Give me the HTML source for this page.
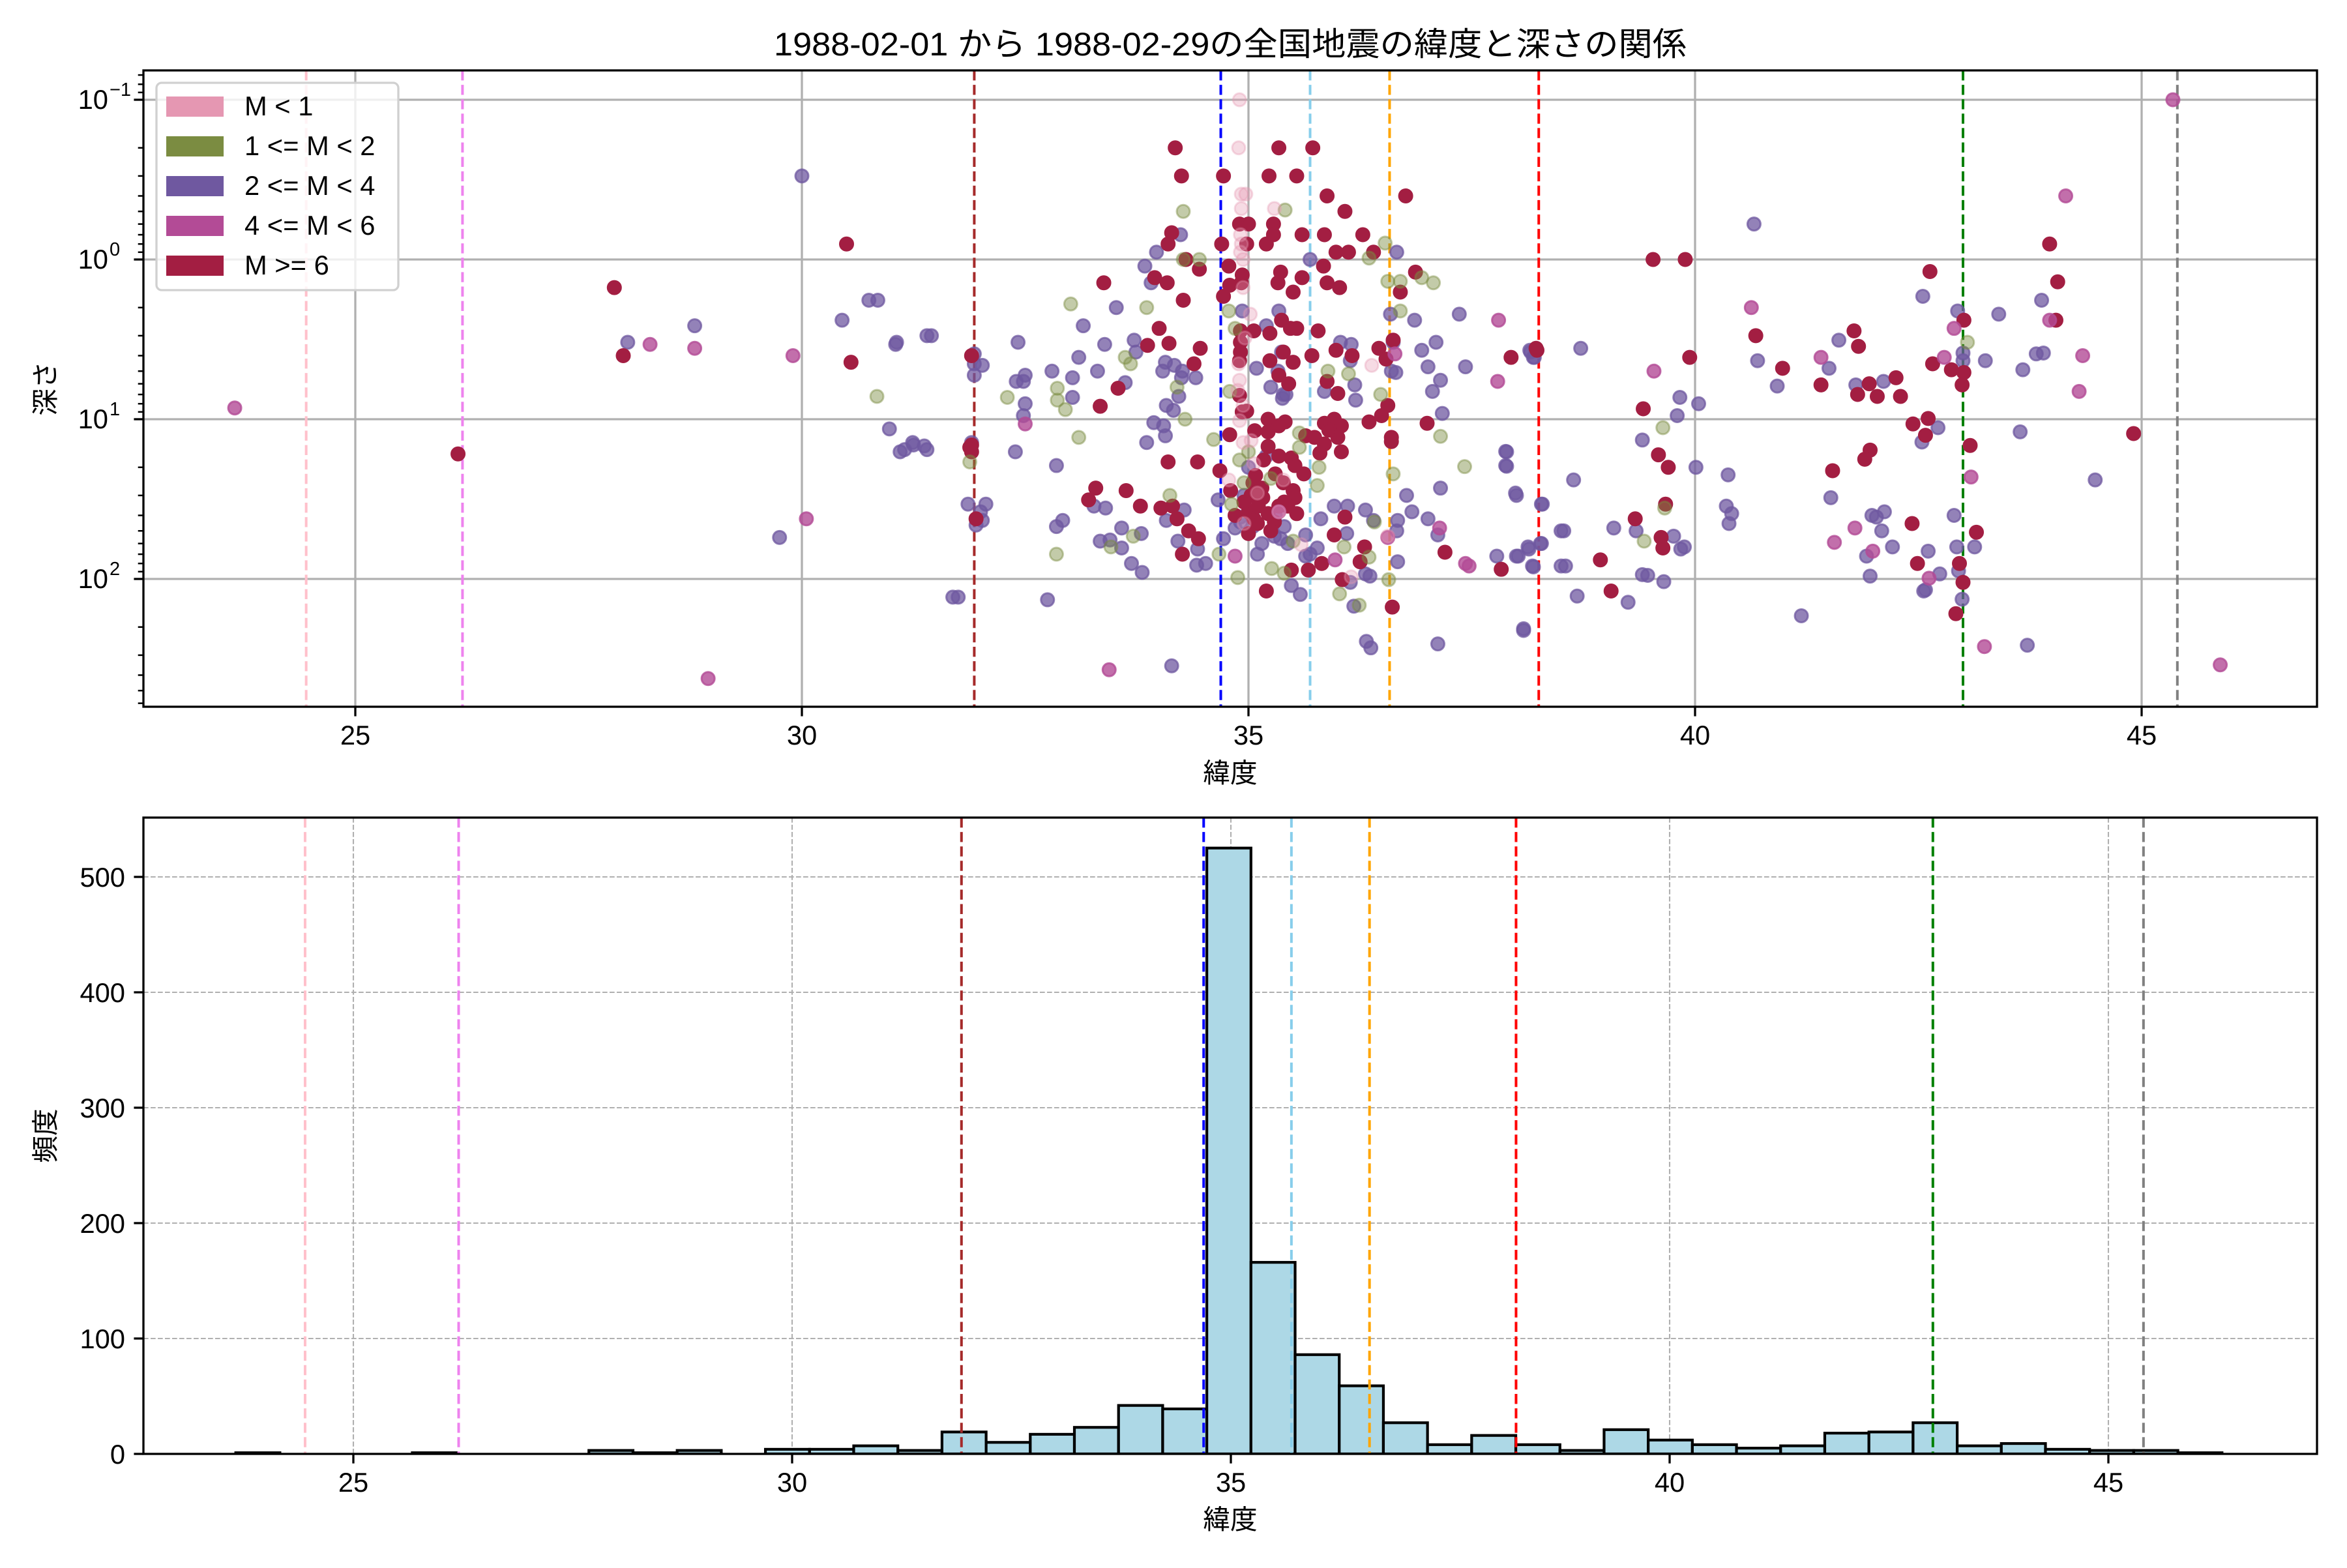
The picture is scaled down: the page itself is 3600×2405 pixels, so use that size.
<!DOCTYPE html>
<html><head><meta charset="utf-8"><style>
html,body{margin:0;padding:0;background:#fff;}
svg text{font-family:"Liberation Sans","Noto Sans CJK JP",sans-serif;fill:#000;}
</style></head>
<body>
<svg id="fig" xmlns="http://www.w3.org/2000/svg" width="3600" height="2400" viewBox="0 0 3600 2400">
<rect width="3600" height="2400" fill="#fff"/>
<defs>
<clipPath id="clipTop"><rect x="220" y="108" width="3334" height="976"/></clipPath>
<clipPath id="clipBot"><rect x="220" y="1254" width="3334" height="976"/></clipPath>
</defs>
<text x="1887" y="85" font-size="50" text-anchor="middle" textLength="1400" lengthAdjust="spacingAndGlyphs">1988-02-01 から 1988-02-29の全国地震の緯度と深さの関係</text>
<g id="topPanel"></g>
<g id="botPanel"></g>
</svg>
<script>
// ---- data ----
const refLats = [24.45, 26.2, 31.93, 34.69, 35.69, 36.58, 38.25, 43.0, 45.4];
const refColors = ["pink","violet","brown","blue","skyblue","orange","red","green","gray"];
const xTicks = [25, 30, 35, 40, 45];
const depthTicks = [-1, 0, 1, 2];
const countTicks = [0, 100, 200, 300, 400, 500];
const histStart = 23.66;
const histWidth = 0.503;
const histCounts = [1,0,0,0,1,0,0,0,3,1,3,0,4,4,7,3,19,10,17,23,42,39,525,166,86,59,27,8,16,8,3,21,12,8,5,7,18,19,27,7,9,4,3,3,1];
const legendLabels = ["M < 1","1 <= M < 2","2 <= M < 4","4 <= M < 6","M >= 6"];
const legendColors = ["#e597b2","#7b8c41","#6f58a0","#b34b96","#a31e42"];

const ptsPink = [[34.89,0.2],[34.92,0.39],[34.97,0.39],[34.92,0.48],[35.29,0.48],[34.91,0.7],[34.91,0.9],[34.94,1.0],[34.94,1.5],[35.02,2.2],[34.89,4.5],[34.9,5.7],[34.94,8.2],[34.9,10.2],[34.94,14],[35.03,13.6],[35.06,19],[34.78,24],[35.39,24],[36.38,4.6],[36.56,54],[36.15,97],[35.34,38],[35.59,61],[34.9,0.1],[34.92,0.8],[34.96,3.1],[34.88,6.6],[35.1,29],[34.95,45]];
const ptsGreen = [[30.84,7.2],[31.88,18.5],[33.01,1.9],[32.86,6.4],[32.86,7.6],[32.95,8.7],[33.62,4.1],[33.68,4.5],[33.86,2],[34.27,0.5],[34.27,1],[34.45,1],[34.2,6.3],[34.29,10],[34.12,30],[33.71,54],[33.46,63],[32.85,70],[34.61,13.4],[34.79,6.7],[34.78,2.1],[34.85,2.7],[34.88,98],[34.67,70],[34.81,34],[35.41,0.49],[35.26,86],[35.4,92],[35.57,12.2],[35.57,15],[35.25,23.5],[35.77,26],[35.79,20],[35.89,5],[36.12,5.2],[36.02,124],[36.24,146],[36.07,63],[36.35,73],[36.41,44],[36.48,7],[36.57,101],[36.62,22],[36.53,0.79],[36.35,0.98],[36.56,1.37],[36.7,1.37],[36.7,2.1],[36.94,1.3],[37.07,1.4],[37.15,12.8],[37.42,19.8],[39.64,11.3],[39.43,58],[39.66,36],[43.05,3.3],[32.3,7.3],[33.1,13],[34.9,18],[34.95,25],[35.0,16],[35.5,58]];
const ptsPurple = [[28.05,3.3],[28.8,2.6],[29.75,55],[30.0,0.3],[30.45,2.4],[30.75,1.8],[31.05,3.4],[31.1,16],[31.25,14.5],[31.4,15.5],[31.45,3],[31.75,130],[30.85,1.8],[31.06,3.3],[31.4,3],[30.98,11.5],[31.24,14],[31.15,15.5],[31.37,14.7],[31.93,3.9],[31.93,4.5],[32.02,4.6],[31.93,5.3],[31.9,14],[31.86,34],[32.06,34],[32.0,38],[32.02,43],[31.95,46],[31.69,130],[32.42,3.3],[32.4,5.8],[32.5,5.3],[32.48,5.8],[32.5,8],[32.48,9.5],[32.39,16],[32.8,5],[33.03,5.5],[33.03,7.3],[33.1,4.1],[33.15,2.6],[33.31,5],[33.52,2],[33.39,3.4],[33.62,5.9],[33.72,3.2],[33.74,3.8],[32.85,19.5],[32.85,47],[32.92,43],[33.27,35],[33.4,36],[33.34,58],[33.45,57],[33.58,48],[33.58,64],[33.69,80],[33.8,52],[33.81,91],[32.75,135],[33.84,1.1],[33.91,1.4],[33.97,0.9],[34.24,0.7],[34.07,4.4],[34.04,5],[34.17,4.6],[34.26,5],[34.25,5.5],[34.41,5.5],[34.22,7.2],[34.08,8.2],[34.16,8.8],[33.94,10.5],[34.05,11],[34.07,12.7],[33.86,14],[34.28,37],[34.08,43],[34.21,58],[34.43,65],[34.42,82],[34.52,80],[34.14,350],[34.66,32],[34.72,56],[34.93,2.1],[34.91,41],[34.91,44],[35.1,70],[35.2,2.6],[35.34,2.1],[35.37,3.8],[35.33,5],[35.25,6.3],[35.39,7],[35.38,7.4],[35.42,7],[35.09,4.8],[35.4,47],[35.29,54],[35.36,56],[35.44,60],[35.64,53],[35.64,72],[35.69,70],[35.77,64],[35.81,42],[35.96,35],[36.11,35],[36.1,52],[36.31,37],[36.4,43],[36.31,93],[36.36,96],[36.14,105],[36.18,148],[36.32,246],[36.37,270],[35.48,110],[35.58,125],[35.69,1],[35.85,6.7],[36.03,3.3],[36.15,3.4],[36.14,4.3],[36.2,7.6],[36.19,6.1],[36.66,0.9],[36.59,2.2],[36.6,5],[36.62,3.3],[36.65,5.1],[36.67,43],[36.66,50],[36.67,78],[36.86,2.4],[36.83,38],[36.94,3.7],[37.01,42],[37.1,3.3],[37.15,5.7],[37.06,6.7],[37.17,9.2],[37.12,53],[37.15,27],[37.36,2.2],[37.43,4.7],[37.12,255],[36.77,30],[37.01,4.7],[37.78,72],[38.0,72],[38.13,63],[38.28,60],[38.18,83],[37.88,15.9],[37.88,19.5],[37.99,29],[38.08,210],[38.16,3.8],[38.19,4.1],[38.28,34],[38.5,50],[38.5,83],[40.66,0.6],[40.7,4.3],[40.92,6.2],[41.5,4.8],[41.61,3.2],[41.8,6.1],[42.11,5.8],[38.72,3.6],[38.15,3.7],[38.2,4.1],[39.83,7.3],[40.04,8],[39.8,9.5],[39.41,13.5],[37.89,16],[37.89,19.7],[38.64,24],[38.0,30],[38.29,34],[40.01,20],[40.37,22.3],[40.35,35],[40.41,39],[40.38,45],[38.53,50],[39.09,48],[39.34,50],[39.76,54],[39.84,65],[39.88,63],[38.02,72],[38.14,65],[38.27,60],[38.19,84],[38.55,83],[38.68,128],[39.25,140],[38.08,205],[39.41,94],[39.47,95],[39.65,104],[41.19,170],[41.52,31],[41.98,40],[42.03,41],[42.12,38],[42.09,50],[42.21,63],[41.92,72],[41.96,96],[42.61,67],[42.56,119],[42.58,117],[42.74,93],[42.9,40],[42.93,63],[42.95,89],[43.13,63],[42.99,134],[43.72,260],[44.48,24],[42.55,1.7],[42.94,2.1],[43.4,2.2],[43.88,1.8],[43.25,4.3],[43.67,4.9],[43.82,3.9],[43.9,3.85],[43.0,3.85],[43.0,4.3],[42.72,11.3],[42.54,13.9],[43.64,12],[34.95,30],[35.0,20],[35.05,47],[35.15,60],[35.3,40],[34.85,48],[35.2,17]];
const ptsMagenta = [[23.65,8.5],[28.3,3.4],[28.8,3.6],[28.95,420],[29.9,4],[30.05,42],[33.44,370],[32.5,10.7],[37.8,2.4],[37.79,5.8],[36.64,3.9],[37.14,48],[37.43,80],[37.47,83],[35.97,76],[35.34,38],[34.85,72],[36.56,55],[45.35,0.1],[44.15,0.4],[40.63,2],[39.54,5],[41.41,4.1],[42.79,4.1],[42.9,2.7],[43.97,2.4],[44.34,4],[44.3,6.7],[43.09,23],[41.79,48],[41.56,59],[41.99,67],[42.62,99],[43.24,265],[45.88,345]];
const ptsRed = [[26.15,16.5],[27.9,1.5],[28.0,4],[30.5,0.8],[30.55,4.4],[31.9,4],[31.9,14.5],[31.95,42],[31.9,16],[31.88,15],[34.18,0.2],[34.25,0.3],[34.72,0.3],[35.34,0.2],[35.72,0.2],[35.23,0.3],[35.54,0.3],[35.88,0.4],[36.08,0.5],[36.76,0.4],[34.9,0.6],[35.0,0.6],[35.28,0.6],[34.14,0.68],[34.1,0.8],[34.7,0.8],[34.98,0.8],[35.28,0.7],[35.2,0.8],[35.6,0.7],[35.85,0.7],[36.28,0.7],[35.98,0.9],[36.12,0.9],[36.4,0.9],[34.3,1.0],[34.45,1.15],[34.78,1.1],[33.38,1.4],[33.95,1.3],[34.09,1.4],[34.27,1.8],[35.36,1.2],[35.33,1.4],[35.6,1.3],[35.5,1.6],[35.84,1.1],[35.88,1.4],[36.02,1.5],[36.7,1.6],[36.87,1.2],[34.72,1.7],[34.79,1.45],[34.92,1.4],[34.93,1.25],[34.0,2.7],[33.87,3.45],[34.11,3.35],[34.46,3.6],[35.37,2.4],[35.47,2.7],[35.54,2.7],[35.78,2.8],[35.24,2.9],[34.91,2.8],[35.06,2.8],[34.91,3.3],[34.91,3.8],[34.9,4.3],[35.24,4.3],[35.39,3.8],[35.5,4.4],[35.71,4],[35.98,3.7],[36.16,4],[36.46,3.6],[36.54,4.2],[36.62,3.2],[34.39,4.5],[33.54,6.4],[33.34,8.3],[35.34,5.3],[35.45,6],[35.88,5.8],[36.0,6.9],[36.49,9.5],[36.56,8.2],[34.9,7.1],[34.93,9],[34.98,8.9],[35.22,10],[35.41,10.4],[36.35,10.4],[37.0,10.6],[35.85,10.6],[35.96,10],[36.04,11],[35.9,11.7],[34.79,12.5],[35.07,11.8],[35.22,12],[35.34,11],[35.64,12.7],[35.74,13],[35.85,14.3],[36.0,13],[36.6,13],[36.6,13.8],[35.22,14.8],[35.8,16.3],[36.04,16],[34.1,18.5],[34.43,18.5],[35.17,18],[35.34,17],[35.48,17.5],[35.52,19.5],[35.62,22],[34.68,21],[35.08,22.5],[33.29,27],[33.63,28],[33.21,32],[34.8,28],[35.03,30],[35.16,31],[35.39,25],[35.5,28],[35.52,31],[33.79,35],[34.02,36],[34.15,35],[34.2,42],[35.0,38],[35.06,42],[35.11,35],[35.22,39],[35.29,44],[35.54,39],[35.34,35],[35.44,35],[34.33,50],[34.44,56],[34.26,70],[35.96,53],[36.08,41],[36.3,63],[36.25,78],[35.48,88],[35.67,88],[35.82,80],[36.05,101],[35.2,119],[36.61,150],[37.2,68],[37.83,87],[37.94,4.1],[38.22,3.6],[39.53,1.0],[39.89,1.0],[38.23,3.7],[39.94,4.1],[39.42,8.6],[39.59,16.7],[39.7,20],[39.67,34],[39.33,42],[39.62,55],[39.64,64],[38.94,76],[39.06,119],[40.68,3],[40.98,4.8],[41.41,6.1],[41.78,2.8],[41.83,3.5],[41.95,6],[41.82,7],[42.04,7.2],[42.3,7.2],[42.25,5.5],[42.44,10.7],[42.61,9.9],[42.58,12.6],[41.96,15.6],[41.9,17.8],[41.54,21],[42.43,45],[42.49,80],[42.96,80],[43.0,105],[42.92,165],[43.15,51],[42.63,1.19],[42.66,4.5],[42.87,4.9],[43.01,2.4],[43.01,5.1],[42.99,6.1],[43.08,14.6],[43.97,0.8],[44.06,1.38],[44.04,2.4],[44.91,12.3],[34.95,33],[35.05,25],[35.1,45],[35.0,52],[35.15,27],[35.25,50],[35.3,22],[34.85,40],[35.4,33]];

// ---- scales ----
const NS = "http://www.w3.org/2000/svg";
const TL = 220, TR = 3554, TT = 108, TB = 1084, BT = 1254, BB = 2230;
function xTop(lat){ return 545 + (lat - 25) * 137; }
function yTop(d){ return 153 + (Math.log10(d) + 1) * 245; }
function xBot(lat){ return 542 + (lat - 25) * 134.6; }
function yBot(c){ return 2230 - c * 1.77; }
function mk(parent, tag, attrs){
  const el = document.createElementNS(NS, tag);
  for (const k in attrs) el.setAttribute(k, attrs[k]);
  parent.appendChild(el);
  return el;
}
const topG = document.getElementById('topPanel');
const botG = document.getElementById('botPanel');

// ---- top panel ----
const tg = mk(topG, 'g', {'clip-path':'url(#clipTop)'});
xTicks.forEach(v => {
  const l = mk(tg, 'line', {x1:xTop(v), x2:xTop(v), y1:TT, y2:TB, stroke:'#b0b0b0', 'stroke-width':3.3});
  
  
});
depthTicks.forEach(e => {
  const y = yTop(Math.pow(10, e));
  const l = mk(tg, 'line', {x1:TL, x2:TR, y1:y, y2:y, stroke:'#b0b0b0', 'stroke-width':3.3});
  
  
});
refLats.forEach((lat, i) => {
  const l = mk(tg, 'line', {x1:xTop(lat), x2:xTop(lat), y1:TT, y2:TB, stroke:refColors[i], 'stroke-width':4, 'stroke-dasharray':'15.4 6.7'});
  
  
});
function drawPts(arr, color, alpha, name){
  const g = mk(tg, 'g', {});
  
  
  arr.forEach(p => {
    const c = mk(g, 'circle', {cx:xTop(p[0]), cy:yTop(p[1]), r:10, fill:color, 'fill-opacity':alpha, stroke:color, 'stroke-opacity':alpha, 'stroke-width':3});
    
    
  });
}
drawPts(ptsPurple, '#6f58a0', 0.75, 'series-m2-4');
drawPts(ptsRed, '#a31e42', 1.0, 'series-m6-plus');
drawPts(ptsGreen, '#7b8c41', 0.45, 'series-m1-2');
drawPts(ptsMagenta, '#b34b96', 0.8, 'series-m4-6');
drawPts(ptsPink, '#e597b2', 0.35, 'series-m-lt-1');

const tf = mk(topG, 'rect', {x:TL, y:TT, width:TR-TL, height:TB-TT, fill:'none', stroke:'#000', 'stroke-width':3.3});


xTicks.forEach(v => {
  const x = xTop(v);
  const t = mk(topG, 'line', {x1:x, x2:x, y1:TB, y2:TB+14.6, stroke:'#000', 'stroke-width':3.3});
  
  
  const tx = mk(topG, 'text', {x:x, y:TB+58, 'font-size':41.7, 'text-anchor':'middle'});
  tx.textContent = v;
  
  
});
for (let e = -2; e <= 2; e++) {
  for (let k = 1; k <= 9; k++) {
    const d = k * Math.pow(10, e);
    const y = yTop(d);
    if (y < TT || y > TB) continue;
    const major = k === 1;
    const t = mk(topG, 'line', {x1:TL - (major ? 14.6 : 8.3), x2:TL, y1:y, y2:y, stroke:'#000', 'stroke-width': major ? 3.3 : 2.5});
    
    
  }
}
depthTicks.forEach(e => {
  const y = yTop(Math.pow(10, e));
  const tx = mk(topG, 'text', {x:166, y:y+14, 'font-size':41.7, 'text-anchor':'end'});
  tx.textContent = '10';
  
  
  const sup = mk(topG, 'text', {x:168, y:y-6, 'font-size':29});
  sup.textContent = e < 0 ? '\u2212' + (-e) : String(e);
  
  
});
const xl = mk(topG, 'text', {x:1887, y:1200, 'font-size':41.7, 'text-anchor':'middle'});
xl.textContent = '緯度';


const yl = mk(topG, 'text', {x:0, y:0, 'font-size':41.7, 'text-anchor':'middle', transform:'translate(84,596) rotate(-90)'});
yl.textContent = '深さ';



const lg = mk(topG, 'g', {});


mk(lg, 'rect', {x:240, y:127, width:371, height:318, rx:8, fill:'#fff', 'fill-opacity':0.8, stroke:'#d0d0d0', 'stroke-width':3.3});
legendLabels.forEach((lab, i) => {
  const y = 148 + i * 61;
  const r = mk(lg, 'rect', {x:255, y:y, width:88, height:31, fill:legendColors[i]});
  
  
  const t = mk(lg, 'text', {x:375, y:y+29, 'font-size':41.7});
  t.textContent = lab;
  
  
});

// ---- bottom panel ----
const bg = mk(botG, 'g', {'clip-path':'url(#clipBot)'});
xTicks.forEach(v => {
  const l = mk(bg, 'line', {x1:xBot(v), x2:xBot(v), y1:BT, y2:BB, stroke:'#b0b0b0', 'stroke-width':2.1, 'stroke-dasharray':'7.7 3.3'});
  
  
});
countTicks.forEach(v => {
  const l = mk(bg, 'line', {x1:TL, x2:TR, y1:yBot(v), y2:yBot(v), stroke:'#b0b0b0', 'stroke-width':2.1, 'stroke-dasharray':'7.7 3.3'});
  
  
});
histCounts.forEach((c, i) => {
  const x0 = xBot(histStart + i * histWidth), x1 = xBot(histStart + (i + 1) * histWidth);
  const r = mk(bg, 'rect', {x:x0, y:yBot(c), width:x1-x0, height:BB-yBot(c), fill:'#add8e6', stroke:'#000', 'stroke-width':4.2});
  
  
});
refLats.forEach((lat, i) => {
  const l = mk(bg, 'line', {x1:xBot(lat), x2:xBot(lat), y1:BT, y2:BB, stroke:refColors[i], 'stroke-width':4, 'stroke-dasharray':'15.4 6.7'});
  
  
});
const bf = mk(botG, 'rect', {x:TL, y:BT, width:TR-TL, height:BB-BT, fill:'none', stroke:'#000', 'stroke-width':3.3});


xTicks.forEach(v => {
  const x = xBot(v);
  const t = mk(botG, 'line', {x1:x, x2:x, y1:BB, y2:BB+14.6, stroke:'#000', 'stroke-width':3.3});
  
  
  const tx = mk(botG, 'text', {x:x, y:BB+58, 'font-size':41.7, 'text-anchor':'middle'});
  tx.textContent = v;
  
  
});
countTicks.forEach(v => {
  const y = yBot(v);
  const t = mk(botG, 'line', {x1:TL-14.6, x2:TL, y1:y, y2:y, stroke:'#000', 'stroke-width':3.3});
  
  
  const tx = mk(botG, 'text', {x:192, y:y+15, 'font-size':41.7, 'text-anchor':'end'});
  tx.textContent = v;
  
  
});
const xl2 = mk(botG, 'text', {x:1887, y:2345, 'font-size':41.7, 'text-anchor':'middle'});
xl2.textContent = '緯度';


const yl2 = mk(botG, 'text', {x:0, y:0, 'font-size':41.7, 'text-anchor':'middle', transform:'translate(84,1742) rotate(-90)'});
yl2.textContent = '頻度';


</script>
</body></html>
